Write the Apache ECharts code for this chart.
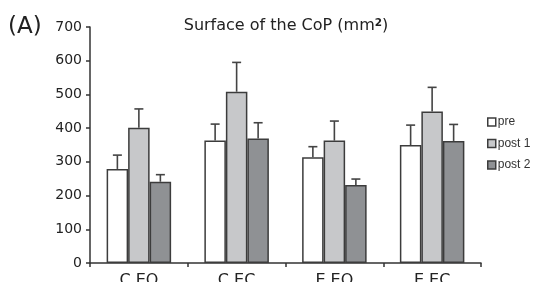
<!DOCTYPE html>
<html>
<head>
<meta charset="utf-8">
<script src="https://cdn.jsdelivr.net/npm/echarts@6/dist/echarts.min.js"></script>
<style>html,body{margin:0;padding:0;background:#fff;}#c{width:539px;height:282px;}</style>
</head>
<body>
<div id="c"></div>
<script>
var categories = ['C EO', 'C EC', 'E EO', 'E EC'];
var seriesNames = ['pre', 'post 1', 'post 2'];
var preValues = [279, 363, 314, 350];
var post1Values = [401, 508, 363, 449];
var post2Values = [241, 369, 231, 362];
var preErrTop = [320, 412, 345, 409];
var post1ErrTop = [457, 595, 421, 521];
var post2ErrTop = [262, 416, 249, 411];
var yTicks = [0, 100, 200, 300, 400, 500, 600, 700];

var FONT = 'DejaVu Sans, Verdana, sans-serif';
var FONT2 = 'Liberation Sans, Arial, sans-serif';
var colors = ['#ffffff', '#c7c8ca', '#8f9194'];
var BAR_W = 21.5;
var values = [preValues, post1Values, post2Values];
var errs = [preErrTop, post1ErrTop, post2ErrTop];

var chart = echarts.init(document.getElementById('c'), null, {renderer: 'canvas'});

var series = [];
seriesNames.forEach(function (name, i) {
  series.push({
    name: name,
    type: 'bar',
    data: values[i],
    barWidth: BAR_W,
    barGap: '0%',
    itemStyle: {color: colors[i], borderColor: '#3c3c3c', borderWidth: 1.5},
    z: 2
  });
});
seriesNames.forEach(function (name, i) {
  var d = categories.map(function (c, k) { return [k, values[i][k], errs[i][k]]; });
  series.push({
    type: 'custom',
    data: d,
    z: 3,
    silent: true,
    renderItem: function (params, api) {
      var k = api.value(0);
      var base = api.coord([k, api.value(1)]);
      var top = api.coord([k, api.value(2)]);
      var x = base[0] + (i - 1) * BAR_W;
      var style = {stroke: '#444', lineWidth: 1.6};
      return {
        type: 'group',
        children: [
          {type: 'line', shape: {x1: x, y1: base[1], x2: x, y2: top[1]}, style: style},
          {type: 'line', shape: {x1: x - 4.5, y1: top[1], x2: x + 4.5, y2: top[1]}, style: style}
        ]
      };
    },
    encode: {x: 0, y: 1}
  });
});

chart.setOption({
  animation: false,
  backgroundColor: '#ffffff',
  textStyle: {fontFamily: FONT},
  title: {
    text: '{a|Surface of the CoP (mm}{s|2}{a|)}',
    left: 281,
    top: 13,
    textAlign: 'center',
    textStyle: {
      rich: {
        a: {fontFamily: FONT, fontSize: 16, color: '#222', fontWeight: 'normal'},
        s: {fontFamily: FONT, fontSize: 10.5, color: '#222', verticalAlign: 'top', lineHeight: 12, padding: [0, 0, 7, 0]}
      }
    }
  },
  graphic: [{
    type: 'text',
    left: 8,
    top: 16,
    style: {text: '(A)', fontFamily: FONT, fontSize: 23, fill: '#222'}
  }],
  legend: {
    orient: 'vertical',
    left: 487,
    top: 116,
    padding: 0,
    itemWidth: 8,
    itemHeight: 8,
    itemGap: 9.5,
    data: seriesNames,
    icon: 'rect',
    itemStyle: {borderColor: '#3c3c3c', borderWidth: 1.5},
    textStyle: {fontFamily: FONT2, fontSize: 12, color: '#333', padding: [0, 0, 0, -3]}
  },
  grid: {left: 90, right: 58, top: 27, bottom: 19, containLabel: false, outerBoundsMode: 'none'},
  xAxis: {
    type: 'category',
    data: categories,
    boundaryGap: true,
    axisLine: {lineStyle: {color: '#333', width: 1.5}},
    axisTick: {show: true, length: 4, lineStyle: {color: '#333', width: 1.5}},
    axisLabel: {fontFamily: FONT, fontSize: 16, color: '#222', margin: 10}
  },
  yAxis: {
    type: 'value',
    min: yTicks[0],
    max: yTicks[yTicks.length - 1],
    interval: 100,
    splitLine: {show: false},
    axisLine: {show: true, lineStyle: {color: '#333', width: 1.5}},
    axisTick: {show: true, length: 4, lineStyle: {color: '#333', width: 1.5}},
    axisLabel: {fontFamily: FONT, fontSize: 14, color: '#222', margin: 8}
  },
  series: series
});
</script>
</body>
</html>
